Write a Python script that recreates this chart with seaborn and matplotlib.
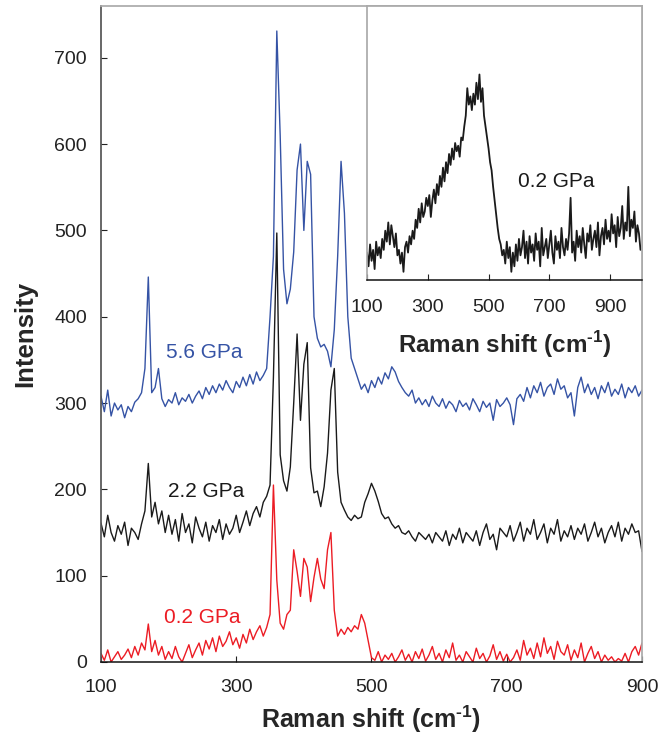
import numpy as np
import pandas as pd
import matplotlib
matplotlib.use("Agg")
import matplotlib.pyplot as plt
import seaborn as sns

# Raman shift grid (cm-1) of the main panel, one value every 5 cm-1
shift = np.arange(100, 905, 5)

# 5.6 GPa spectrum (blue)
gpa_56 = [
    308, 290, 315, 285, 300, 292, 298, 283, 296, 290,   # 100-145
    301, 305, 312, 340, 446, 312, 318, 340, 305, 296,   # 150-195
    304, 300, 312, 298, 306, 302, 310, 300, 308, 314,   # 200-245
    305, 318, 310, 320, 312, 322, 315, 326, 318, 312,   # 250-295
    325, 318, 330, 320, 333, 322, 336, 326, 332, 340,   # 300-345
    400, 470, 731, 610, 455, 415, 432, 475, 570, 600,   # 350-395
    500, 580, 565, 400, 375, 365, 368, 360, 342, 385,   # 400-445
    470, 580, 520, 400, 352, 340, 328, 316, 322, 312,   # 450-495
    326, 318, 330, 322, 335, 328, 342, 336, 325, 318,   # 500-545
    312, 308, 315, 300, 306, 298, 304, 296, 308, 300,   # 550-595
    296, 305, 294, 302, 298, 290, 303, 296, 300, 292,   # 600-645
    305, 298, 290, 302, 295, 300, 280, 304, 296, 300,   # 650-695
    306, 298, 275, 305, 310, 302, 318, 306, 320, 312,   # 700-745
    324, 308, 318, 322, 310, 328, 316, 320, 306, 312,   # 750-795
    285, 318, 330, 312, 322, 310, 318, 305, 320, 312,   # 800-845
    324, 308, 316, 310, 322, 306, 318, 312, 320, 308,   # 850-895
    315,
]

# 2.2 GPa spectrum (black)
gpa_22 = [
    161, 145, 170, 150, 140, 158, 148, 162, 135, 155,
    150, 142, 160, 175, 230, 168, 185, 160, 175, 150,
    170, 148, 165, 140, 172, 150, 160, 138, 168, 155,
    145, 162, 140, 158, 150, 165, 142, 160, 148, 155,
    170, 150, 162, 175, 158, 172, 180, 168, 185, 192,
    205, 330, 497, 240, 210, 198, 226, 300, 380, 280,
    345, 370, 225, 196, 198, 180, 203, 242, 315, 340,
    220, 185, 176, 168, 164, 170, 166, 168, 185, 195,
    207, 198, 186, 172, 166, 168, 160, 155, 158, 150,
    148, 152, 145, 140, 150, 146, 142, 148, 138, 150,
    145, 140, 152, 135, 148, 142, 155, 138, 150, 145,
    140, 152, 135, 150, 160, 142, 148, 130, 155, 150,
    145, 158, 140, 150, 162, 140, 155, 148, 165, 142,
    150, 160, 138, 155, 148, 165, 140, 152, 145, 158,
    142, 155, 148, 160, 140, 150, 162, 145, 155, 138,
    150, 158, 145, 162, 140, 155, 148, 160, 150, 152,
    128,
]

# 0.2 GPa spectrum (red)
gpa_02 = [
    10, 2, 14, 0, 6, 12, 3, 8, 15, 5,
    18, 8, 22, 14, 44, 12, 25, 8, 18, 3,
    12, 4, 18, 6, 0, 10, 20, 5, 14, 22,
    8, 25, 15, 28, 12, 30, 18, 24, 35, 20,
    28, 16, 32, 22, 38, 26, 35, 42, 30, 40,
    55, 205, 95, 45, 38, 55, 60, 130, 105, 76,
    120, 110, 70, 98, 120, 96, 85, 130, 150, 60,
    30, 38, 32, 40, 35, 42, 38, 55, 45, 25,
    5, 2, 12, 0, 8, 3, 10, 0, 6, 14,
    2, 9, 0, 12, 4, 15, 1, 8, 18, 3,
    10, 0, 14, 5, 22, 2, 8, 0, 12, 6,
    0, 16, 4, 10, 0, 7, 20, 3, 12, 1,
    9, 0, 5, 14, 2, 25, 8, 16, 4, 22,
    6, 28, 10, 18, 3, 24, 12, 8, 20, 2,
    14, 5, 22, 0, 10, 18, 4, 12, 0, 8,
    2, 6, 0, 4, 1, 10, 0, 12, 18, 8,
    22,
]

# inset: 0.2 GPa over a wider range (arbitrary units, no y scale shown)
inset_shift = np.arange(100, 1005, 5)
inset_02 = [
    10, 5, 13, 7, 11, 4, 14, 9, 12, 8,
    15, 11, 18, 14, 21, 13, 20, 16, 12, 17,
    9, 11, 6, 10, 3, 12, 14, 10, 16, 13,
    18, 15, 22, 19, 26, 21, 28, 23, 25, 30,
    27, 31, 23, 29, 33, 28, 35, 31, 38, 34,
    41, 36, 43, 39, 46, 42, 48, 44, 50, 47,
    49, 45, 52, 51, 56, 60, 70, 64, 67, 62,
    68, 64, 72, 66, 75, 65, 70, 60, 56, 52,
    48, 43, 40, 34, 29, 24, 19, 15, 13, 9,
    11, 6, 14, 8, 12, 3, 10, 5, 13, 7,
    15, 9, 12, 18, 8, 14, 6, 16, 10, 13,
    7, 17, 11, 14, 5, 19, 9, 12, 15, 8,
    13, 18, 10, 6, 16, 11, 14, 8, 19, 12,
    9, 15, 11, 17, 30, 10, 14, 7, 18, 12,
    16, 10, 19, 13, 8, 17, 14, 20, 11, 15,
    18, 12, 21, 9, 16, 19, 13, 22, 15, 18,
    14, 24, 17, 20, 12, 23, 16, 19, 27, 15,
    21, 18, 34, 16, 22, 19, 25, 14, 20, 17,
    11,
]

labels = ["5.6 GPa", "2.2 GPa", "0.2 GPa"]
colors = ["#3553a5", "#1a1a1a", "#ec1c24"]
xlabel = r"Raman shift (cm$^{\text{-1}}$)"

sns.set_theme(style="white")
plt.rcParams["font.family"] = ["Liberation Sans", "DejaVu Sans"]
plt.rcParams["mathtext.fontset"] = "custom"
plt.rcParams["mathtext.rm"] = "Liberation Sans:bold"
plt.rcParams["mathtext.bf"] = "Liberation Sans:bold"

fig = plt.figure(figsize=(6.7, 7.39), dpi=100)
ax = fig.add_axes([0.1507, 0.1042, 0.8075, 0.8877])

df = pd.DataFrame({"shift": shift, "5.6 GPa": gpa_56, "2.2 GPa": gpa_22, "0.2 GPa": gpa_02})
for lab, col in zip(labels, colors):
    sns.lineplot(data=df, x="shift", y=lab, ax=ax, color=col, linewidth=1.0, estimator=None)

ax.set_xlim(100, 900)
ax.set_ylim(0, 760)
ax.set_xticks([100, 300, 500, 700, 900])
ax.set_yticks(range(0, 800, 100))
ax.tick_params(axis="both", direction="in", length=4, width=0.8, labelsize=14,
               colors="#222222", bottom=True, left=True)
ax.tick_params(axis="x", pad=12)
ax.tick_params(axis="y", pad=10)
ax.set_xlabel(xlabel, fontsize=18, fontweight="bold", labelpad=6)
ax.set_ylabel("Intensity", fontsize=18.5, fontweight="bold", labelpad=12)

ax.spines["left"].set_color("#555555")
ax.spines["bottom"].set_color("#111111")
ax.spines["bottom"].set_linewidth(1.1)
ax.spines["top"].set_color("#aaaaaa")
ax.spines["right"].set_color("#aaaaaa")

# series labels
ax.text(196, 358, "5.6 GPa", color=colors[0], fontsize=15, va="center", ha="left")
ax.text(199, 198, "2.2 GPa", color=colors[1], fontsize=15, va="center", ha="left")
ax.text(193, 52, "0.2 GPa", color=colors[2], fontsize=15, va="center", ha="left")

# inset
ins = fig.add_axes([0.5478, 0.6211, 0.4104, 0.3708])
sns.lineplot(x=inset_shift, y=inset_02, ax=ins, color="#1a1a1a", linewidth=1.3, estimator=None)
ins.set_xlim(100, 1005)
ins.set_ylim(0, 100)
ins.set_xticks([100, 300, 500, 700, 900])
ins.set_yticks([])
ins.tick_params(axis="x", direction="in", length=4, width=0.8, labelsize=14,
                colors="#222222", pad=14, bottom=True)
ins.set_xlabel(xlabel, fontsize=17.5, fontweight="bold", labelpad=9)
ins.set_ylabel("")
for side in ["left", "top", "right"]:
    ins.spines[side].set_color("#aaaaaa")
ins.spines["bottom"].set_color("#111111")
ins.spines["bottom"].set_linewidth(1.1)
ins.text(598, 36, "0.2 GPa", color="#1a1a1a", fontsize=15, va="center", ha="left")

fig.savefig("out.png", dpi=100)
